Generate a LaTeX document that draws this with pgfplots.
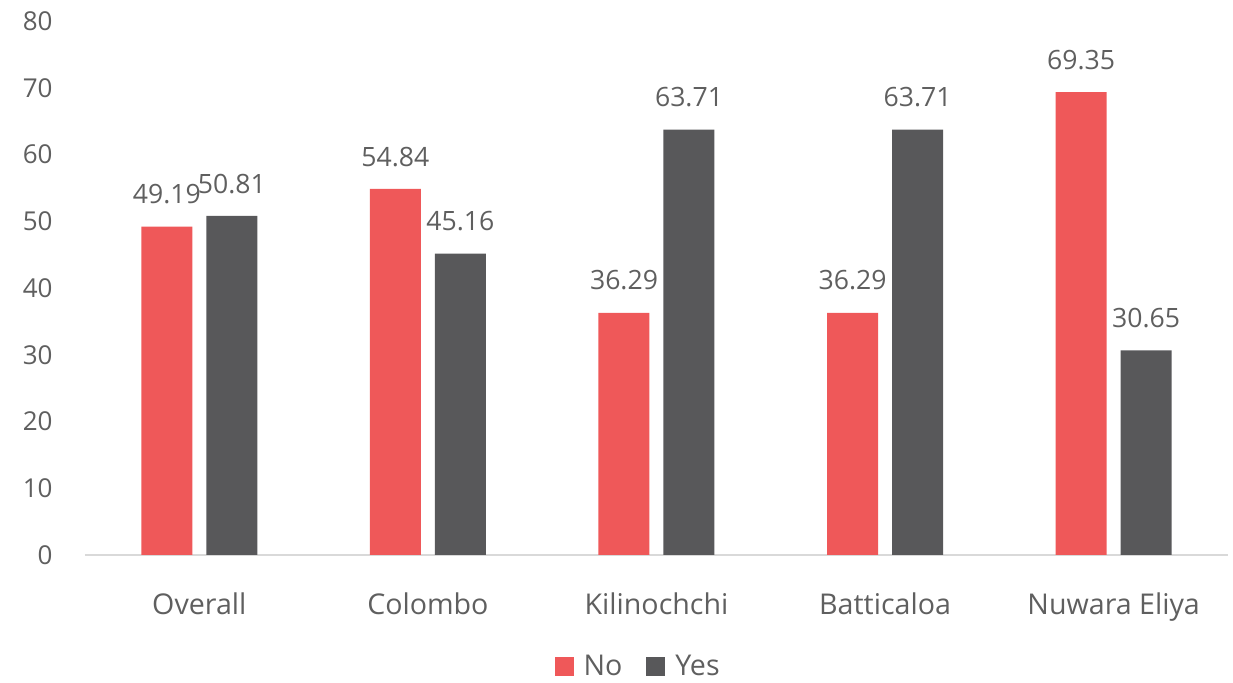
\documentclass[border=0pt]{standalone}
\usepackage{pgfplots}
\pgfplotsset{compat=1.18}
\usepackage{fontspec}
\setmainfont{Open Sans}
\definecolor{cno}{HTML}{EF5859}
\definecolor{cyes}{HTML}{58585A}
\definecolor{ctext}{HTML}{5F5F5F}
\definecolor{cbase}{HTML}{D9D9D9}
\begin{document}
\begin{tikzpicture}
\begin{axis}[
  at={(0,0)}, anchor=south west,
  scale only axis, width=571.5pt, height=267pt,
  xmin=-0.5, xmax=4.5, ymin=0, ymax=80,
  ytick={0,10,...,80},
  xtick={0,1,2,3,4},
  xticklabels={Overall,Colombo,Kilinochchi,Batticaloa,Nuwara Eliya},
  axis x line=bottom, axis y line=left,
  axis line style={-},
  x axis line style={draw=cbase, line width=1pt},
  y axis line style={draw=none},
  major tick length=0pt,
  /pgf/number format/assume math mode=true,
  tick label style={font=\fontsize{13}{15}\selectfont, text=ctext},
  xticklabel style={font=\fontsize{14.3}{16}\selectfont, anchor=base, inner sep=0pt, yshift=-30pt},
  yticklabel style={anchor=east, inner sep=0pt, xshift=-16pt},
  ybar, bar width=25.5pt, ybar=7pt,
  nodes near coords,
  nodes near coords style={font=\fontsize{13.3}{15}\selectfont, text=ctext, anchor=south, inner sep=0pt, yshift=11pt,
    /pgf/number format/.cd, fixed, precision=2, fixed zerofill, assume math mode=true},
  legend columns=2,
  legend style={at={(0.483,0)}, anchor=center, yshift=-55.75pt, draw=none, fill=none,
    font=\fontsize{14.3}{16}\selectfont, text=ctext, inner sep=0pt,
    nodes={inner sep=0pt},
    /tikz/every odd column/.append style={column sep=5pt},
    /tikz/every even column/.append style={column sep=12pt}},
  legend image code/.code={\fill[#1] (0pt,-4.75pt) rectangle (9.5pt,4.75pt);},
]
\addplot[fill=cno, draw=none] coordinates {(0,49.19) (1,54.84) (2,36.29) (3,36.29) (4,69.35)};
\addplot[fill=cyes, draw=none] coordinates {(0,50.81) (1,45.16) (2,63.71) (3,63.71) (4,30.65)};
\legend{No,Yes}
\end{axis}
\pgfresetboundingbox
\useasboundingbox (-42.5pt,-64pt) rectangle (574pt,277.5pt);
\end{tikzpicture}
\end{document}
